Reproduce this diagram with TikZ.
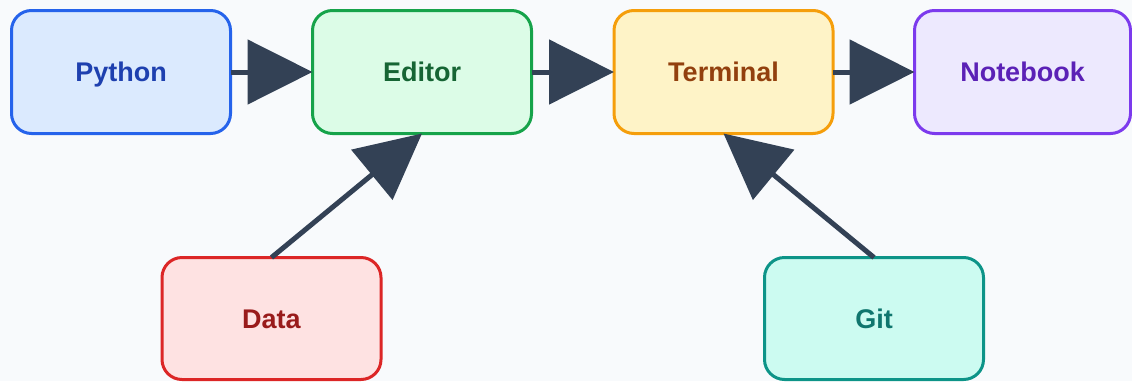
\documentclass[tikz,border=0pt]{standalone}
\usepackage{fontspec}
\setmainfont{Liberation Sans}
\usetikzlibrary{arrows.meta}

\definecolor{bgcol}{HTML}{F8FAFC}
\definecolor{edgecol}{HTML}{334155}
\definecolor{pyfill}{HTML}{DBEAFE}\definecolor{pydraw}{HTML}{2563EB}\definecolor{pytext}{HTML}{1E40AF}
\definecolor{edfill}{HTML}{DCFCE7}\definecolor{eddraw}{HTML}{16A34A}\definecolor{edtext}{HTML}{166534}
\definecolor{tmfill}{HTML}{FEF3C7}\definecolor{tmdraw}{HTML}{F59E0B}\definecolor{tmtext}{HTML}{92400E}
\definecolor{nbfill}{HTML}{EDE9FE}\definecolor{nbdraw}{HTML}{7C3AED}\definecolor{nbtext}{HTML}{5B21B6}
\definecolor{dtfill}{HTML}{FEE2E2}\definecolor{dtdraw}{HTML}{DC2626}\definecolor{dttext}{HTML}{991B1B}
\definecolor{gtfill}{HTML}{CCFBF1}\definecolor{gtdraw}{HTML}{0D9488}\definecolor{gttext}{HTML}{0F766E}

\tikzset{
  box/.style={rectangle, rounded corners=20pt, line width=3pt, outer sep=0pt,
    minimum width=219pt, minimum height=123pt, inner sep=0pt,
    text height=19.5pt, text depth=0pt,
    font=\fontsize{27}{31}\selectfont\bfseries},
  flow/.style={draw=edgecol, line width=5pt,
    -{Triangle[length=65pt, width=64pt, fill=edgecol]}},
}

\begin{document}
\begin{tikzpicture}[x=1pt, y=-1pt]
  \fill[bgcol] (0,0) rectangle (1132,381);
  \useasboundingbox (0,0) rectangle (1132,381);

  \node[box, fill=pyfill, draw=pydraw, text=pytext] (python)   at (121,72)    {Python};
  \node[box, fill=edfill, draw=eddraw, text=edtext] (editor)   at (422,72)    {Editor};
  \node[box, fill=tmfill, draw=tmdraw, text=tmtext] (terminal) at (723.5,72)  {Terminal};
  \node[box, fill=nbfill, draw=nbdraw, text=nbtext, minimum width=216pt] (notebook) at (1022.5,72) {Notebook};
  \node[box, fill=dtfill, draw=dtdraw, text=dttext, minimum height=122pt] (data) at (271.5,318.5) {Data};
  \node[box, fill=gtfill, draw=gtdraw, text=gttext, minimum height=122pt] (git)  at (874,318.5)   {Git};

  \draw[flow] (python) -- (editor);
  \draw[flow] (editor) -- (terminal);
  \draw[flow] (terminal) -- (notebook);
  \draw[flow] (data.north) -- (editor.south);
  \draw[flow] (git.north) -- (terminal.south);
\end{tikzpicture}
\end{document}
